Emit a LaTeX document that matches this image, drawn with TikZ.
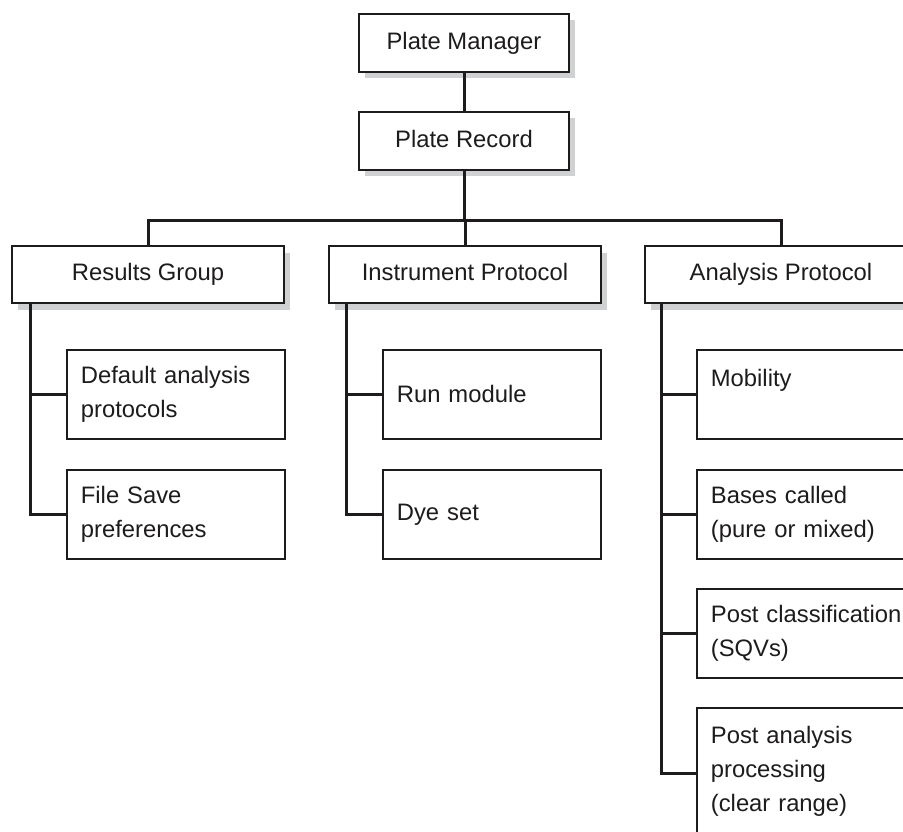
\documentclass[tikz,border=0pt]{standalone}
\usepackage{fontspec}
\setmainfont{Liberation Sans}
\usetikzlibrary{shadows}
\definecolor{ink}{RGB}{30,27,28}
\definecolor{shadowgray}{RGB}{208,209,211}
\tikzset{
  basebox/.style={draw=ink, line width=1.8pt, fill=white, text=ink, inner sep=0pt,
    font=\fontsize{23.8}{34}\selectfont},
  topbox/.style={basebox, minimum height=58pt, minimum width=210pt,
    text height=17.5pt, text depth=5pt,
    drop shadow={shadow xshift=6pt, shadow yshift=-6pt, fill=shadowgray, opacity=1}},
  groupbox/.style={basebox, minimum height=57pt, minimum width=272pt,
    text height=17.5pt, text depth=5pt,
    drop shadow={shadow xshift=6pt, shadow yshift=-7pt, fill=shadowgray, opacity=1}},
  childbox/.style={basebox, anchor=north west, minimum height=89pt, minimum width=218pt,
    text width=190pt, inner xsep=14pt, align=left},
  conn/.style={draw=ink, line width=3pt},
}
\begin{document}
\begin{tikzpicture}[x=1pt, y=-1pt]
\useasboundingbox (0,0) rectangle (903,831);
\clip (0,0) rectangle (903,831);

% top nodes
\node[topbox] (pm) at (464,43) {Plate Manager};
\node[topbox] (pr) at (464,141) {Plate Record};

% group nodes
\node[groupbox] (rg) at (148,274.5) {Results Group};
\node[groupbox] (ip) at (465,274.5) {Instrument Protocol};
\node[groupbox] (ap) at (781,274.5) {Analysis Protocol};

% children of Results Group
\node[childbox] (dap) at (66,349) {Default analysis\\protocols};
\node[childbox] (fsp) at (66,469) {File Save\\preferences};

% children of Instrument Protocol
\node[childbox] (rm) at (382,349) {Run module};
\node[childbox] (ds) at (382,469) {Dye set};

% children of Analysis Protocol
\node[childbox] (mob) at (696,349) {Mobility\\~};
\node[childbox] (bc) at (696,469) {Bases called\\(pure or mixed)};
\node[childbox] (pc) at (696,588) {\mbox{Post classification}\\(SQVs)};
\node[childbox, minimum height=126pt] (pap) at (696,707) {Post analysis\\processing\\(clear range)};

% connectors
\coordinate (bar) at (464,220);
\draw[conn] (pm.south) -- (pr.north);
\draw[conn] (pr.south) -- (bar);
\draw[conn] (rg.north) |- (bar) -| (ap.north);
\draw[conn] (ip.north) -- (ip.north |- bar);

\coordinate (rgt) at ([xshift=19pt]rg.south west);
\draw[conn] (rgt) |- (fsp.west);
\draw[conn] (rgt |- dap.west) -- (dap.west);

\coordinate (ipt) at ([xshift=18pt]ip.south west);
\draw[conn] (ipt) |- (ds.west);
\draw[conn] (ipt |- rm.west) -- (rm.west);

\coordinate (apt) at ([xshift=17pt]ap.south west);
\coordinate (papj) at ([yshift=-3pt]pap.west);
\draw[conn] (apt) |- (papj);
\draw[conn] (apt |- mob.west) -- (mob.west);
\draw[conn] (apt |- bc.west) -- (bc.west);
\draw[conn] (apt |- pc.west) -- (pc.west);
\end{tikzpicture}
\end{document}
